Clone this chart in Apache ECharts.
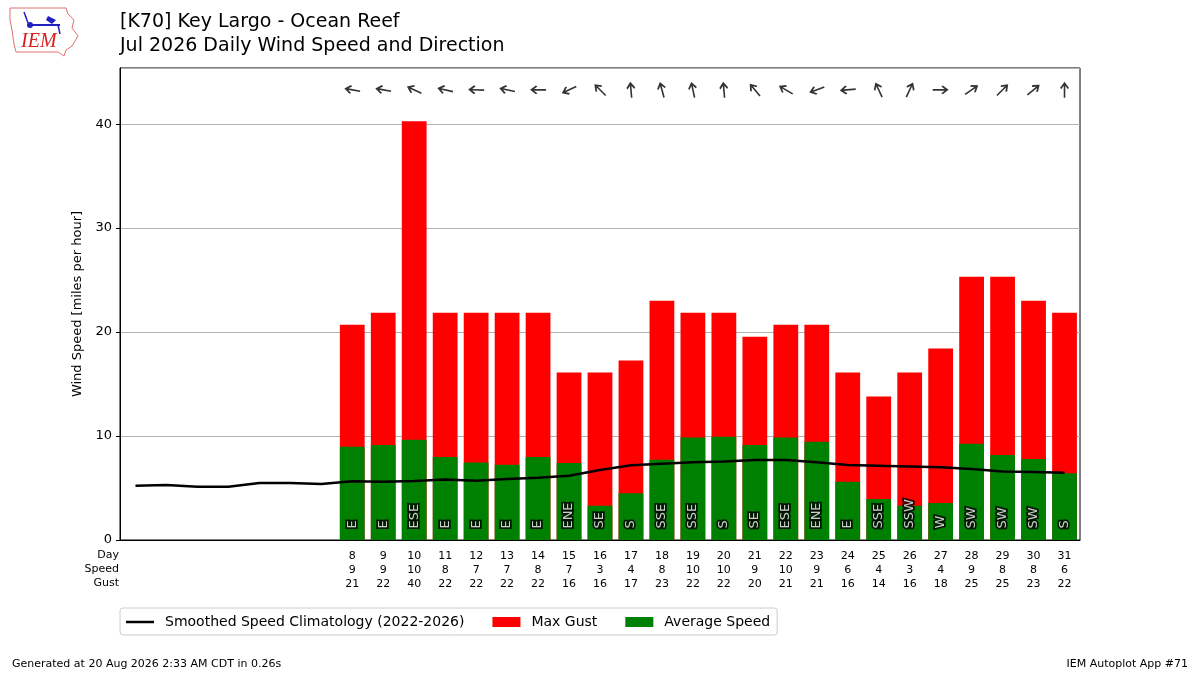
<!DOCTYPE html>
<html>
<head>
<meta charset="utf-8">
<script src="https://cdn.jsdelivr.net/npm/echarts@6/dist/echarts.min.js"></script>
<style>
html, body { margin: 0; padding: 0; background: #fff; }
#chart { width: 1200px; height: 675px; }
</style>
</head>
<body>
<div id="chart"></div>
<script>
// days of the month shown on the axis
var days = [];
for (var d = 1; d <= 31; d++) { days.push(String(d)); }

// observed days 8..31
var obsDays = [8, 9, 10, 11, 12, 13, 14, 15, 16, 17, 18, 19, 20, 21, 22, 23, 24, 25, 26, 27, 28, 29, 30, 31];
var avgSpeed = [8.97, 9.13, 9.65, 7.98, 7.45, 7.24, 7.98, 7.40, 3.30, 4.49, 7.72, 9.87,
                9.94, 9.13, 9.87, 9.46, 5.61, 3.94, 3.30, 3.56, 9.26, 8.17, 7.79, 6.41];
var maxGust = [20.71, 21.86, 40.28, 21.86, 21.86, 21.86, 21.86, 16.11, 16.11, 17.26, 23.02, 21.86,
               21.86, 19.56, 20.71, 20.71, 16.11, 13.81, 16.11, 18.41, 25.32, 25.32, 23.02, 21.86];
var dirText = ['E', 'E', 'ESE', 'E', 'E', 'E', 'E', 'ENE', 'SE', 'S', 'SSE', 'SSE',
               'S', 'SE', 'ESE', 'ENE', 'E', 'SSE', 'SSW', 'W', 'SW', 'SW', 'SW', 'S'];
// direction the arrow points to (compass degrees)
var arrowTo = [280, 280, 295, 283, 272, 282, 270, 245, 315, 355, 345, 348,
               355, 320, 300, 250, 265, 335, 25, 90, 55, 45, 50, 0];
// smoothed climatology for every day 1..31
var climo = [5.22, 5.29, 5.13, 5.13, 5.48, 5.48, 5.38, 5.66, 5.61, 5.67, 5.83, 5.71, 5.87, 5.99, 6.19, 6.73,
             7.18, 7.34, 7.47, 7.56, 7.69, 7.69, 7.47, 7.21, 7.15, 7.08, 6.99, 6.83, 6.60, 6.54, 6.47];

var font = 'DejaVu Sans';
var arrowPath = 'path://M4.9,16 L7.1,16 L7.1,3.8 L10.5,7.2 L12,5.7 L6,-0.3 L0,5.7 L1.5,7.2 L4.9,3.8 Z';

function byDay(values) {
    var out = days.map(function () { return '-'; });
    for (var i = 0; i < obsDays.length; i++) {
        out[obsDays[i] - 1] = values[i];
    }
    return out;
}

// direction text: black halo layer under a white fill layer
function dirLabels(name, fill, border, z) {
    var data = [];
    for (var i = 0; i < obsDays.length; i++) {
        data.push({ value: [String(obsDays[i]), 1.1], name: dirText[i] });
    }
    return {
        name: name, type: 'scatter', data: data,
        symbolSize: 0, z: z,
        label: {
            show: true, position: 'inside', rotate: 90,
            align: 'left', verticalAlign: 'middle',
            formatter: function (p) { return p.name; },
            fontFamily: font, fontSize: 13, color: fill,
            textBorderColor: '#000', textBorderWidth: border
        }
    };
}

var gustData = byDay(maxGust);
var avgData = byDay(avgSpeed);
var arrowData = [];
for (var i = 0; i < obsDays.length; i++) {
    arrowData.push({ value: [String(obsDays[i]), 43.3], symbolRotate: -arrowTo[i] });
}

var chart = echarts.init(document.getElementById('chart'));
chart.setOption({
    animation: false,
    backgroundColor: '#fff',
    textStyle: { fontFamily: font },
    grid: {
        left: 120, right: 120, top: 68, bottom: 135,
        show: true, borderColor: '#000', borderWidth: 1, backgroundColor: 'transparent'
    },
    legend: {
        data: [
            { name: 'Smoothed Speed Climatology (2022-2026)', icon: 'path://M0,0 L28,0 L28,2.5 L0,2.5 Z', itemStyle: { color: '#000' } },
            { name: 'Max Gust', icon: 'rect' },
            { name: 'Average Speed', icon: 'rect' }
        ],
        left: 120, top: 608,
        padding: [7, 7, 6, 6],
        itemGap: 28,
        itemWidth: 28, itemHeight: 10,
        borderColor: '#ccc', borderWidth: 1, borderRadius: 3,
        textStyle: { fontFamily: font, fontSize: 14, color: '#000', padding: [0, 0, 0, 6] }
    },
    xAxis: {
        type: 'category',
        data: days,
        boundaryGap: true,
        axisLine: { lineStyle: { color: '#000' } },
        axisTick: {
            alignWithLabel: true, length: 4,
            interval: function (idx) { return idx >= 7; },
            lineStyle: { color: '#000' }
        },
        axisLabel: {
            interval: 0, margin: 9,
            fontFamily: font, fontSize: 11, lineHeight: 14, color: '#000',
            formatter: function (v) {
                var k = obsDays.indexOf(Number(v));
                if (k < 0) { return ''; }
                return v + '\n' + Math.round(avgSpeed[k]) + '\n' + Math.round(maxGust[k]);
            }
        },
        splitLine: { show: false }
    },
    yAxis: {
        type: 'value',
        min: 0, max: 45.4, interval: 10,
        name: 'Wind Speed [miles per hour]',
        nameLocation: 'middle', nameGap: 24,
        nameTextStyle: { fontFamily: font, fontSize: 13, color: '#000' },
        axisLine: { show: true, lineStyle: { color: '#000' } },
        axisTick: { show: true, length: 4, lineStyle: { color: '#000' } },
        axisLabel: { fontFamily: font, fontSize: 13, color: '#000', margin: 8, showMaxLabel: false },
        splitLine: { show: true, lineStyle: { color: '#b0b0b0', width: 1 } }
    },
    series: [
        {
            name: 'Max Gust', type: 'bar', data: gustData,
            barWidth: '80%', barGap: '-100%',
            itemStyle: { color: '#ff0000' }, z: 2
        },
        {
            name: 'Average Speed', type: 'bar', data: avgData,
            barWidth: '80%', barGap: '-100%',
            itemStyle: { color: '#008000' }, z: 3
        },
        {
            name: 'Smoothed Speed Climatology (2022-2026)', type: 'line', data: climo,
            symbol: 'none', lineStyle: { color: '#000', width: 2.5 },
            itemStyle: { color: '#000' }, z: 5
        },
        dirLabels('dirHalo', '#000', 3.5, 6),
        dirLabels('dirText', '#fff', 0, 7),
        {
            name: 'arrows', type: 'scatter', data: arrowData,
            symbol: arrowPath, symbolSize: [12, 16], symbolKeepAspect: true,
            itemStyle: { color: '#000' }, z: 6
        }
    ],
    graphic: [
        { type: 'text', left: 120, top: 13, style: { text: '[K70] Key Largo - Ocean Reef', fontFamily: font, fontSize: 19, fill: '#000' } },
        { type: 'text', left: 120, top: 37, style: { text: 'Jul 2026 Daily Wind Speed and Direction', fontFamily: font, fontSize: 19, fill: '#000' } },
        { type: 'text', right: 1081, top: 550, style: { text: 'Day', fontFamily: font, fontSize: 11, fill: '#000', align: 'right' } },
        { type: 'text', right: 1081, top: 564, style: { text: 'Speed', fontFamily: font, fontSize: 11, fill: '#000', align: 'right' } },
        { type: 'text', right: 1081, top: 578, style: { text: 'Gust', fontFamily: font, fontSize: 11, fill: '#000', align: 'right' } },
        { type: 'text', left: 12, top: 659, style: { text: 'Generated at 20 Aug 2026 2:33 AM CDT in 0.26s', fontFamily: font, fontSize: 11, fill: '#000' } },
        { type: 'text', right: 12, top: 659, style: { text: 'IEM Autoplot App #71', fontFamily: font, fontSize: 11, fill: '#000' } },
        // logo
        {
            type: 'polyline', shape: { points: [[10, 8], [66, 8], [68, 14], [74, 20], [72, 28], [78, 36], [72, 46], [66, 50], [64, 56], [58, 52], [16, 52], [14, 44], [12, 30], [10, 20], [10, 8]] },
            style: { stroke: '#e07070', lineWidth: 1, fill: 'none' }
        },
        { type: 'text', left: 21, top: 32, style: { text: 'IEM', fontFamily: 'Liberation Serif', fontStyle: 'italic', fontSize: 20, fill: '#d82020' } },
        { type: 'line', shape: { x1: 30, y1: 25, x2: 60, y2: 25 }, style: { stroke: '#2020c0', lineWidth: 2 } },
        { type: 'circle', shape: { cx: 30, cy: 25, r: 3 }, style: { fill: '#2020c0' } },
        { type: 'line', shape: { x1: 28, y1: 23, x2: 24, y2: 12 }, style: { stroke: '#2020c0', lineWidth: 1.5 } },
        { type: 'polygon', shape: { points: [[48, 16], [56, 20], [52, 24], [46, 20]] }, style: { fill: '#2020c0' } },
        { type: 'line', shape: { x1: 58, y1: 25, x2: 60, y2: 34 }, style: { stroke: '#2020c0', lineWidth: 1.5 } }
    ]
});
</script>
</body>
</html>
